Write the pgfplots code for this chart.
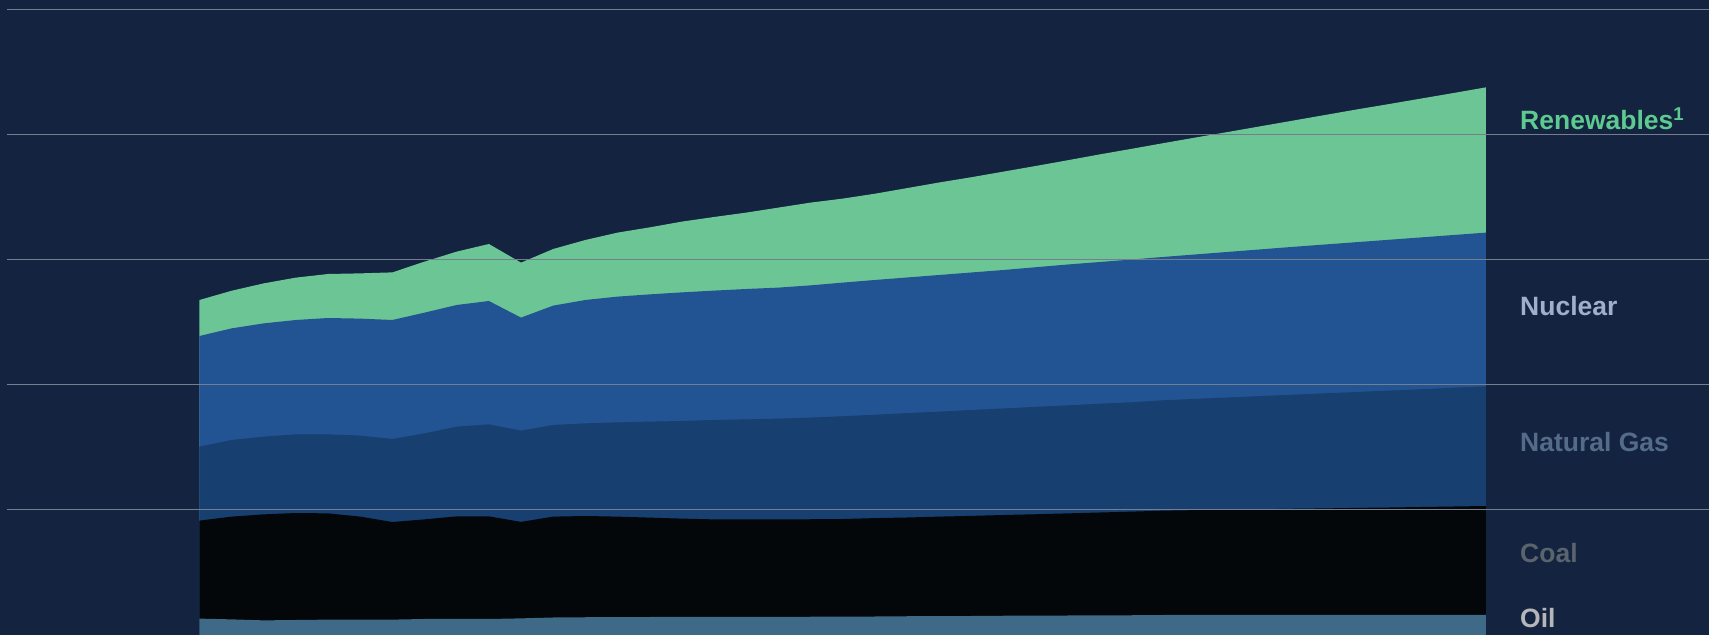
\documentclass[border=0pt]{standalone}
\usepackage{fontspec}
\setmainfont{Liberation Sans}
\usepackage{pgfplots}
\usepackage{pgfplotstable}
\pgfplotsset{compat=1.18}
\definecolor{bg}{HTML}{14233F}
\definecolor{gridc}{HTML}{737F8F}
\definecolor{renew}{HTML}{6CC595}
\definecolor{nucl}{HTML}{225393}
\definecolor{gas}{HTML}{173F70}
\definecolor{coal}{HTML}{030709}
\definecolor{oil}{HTML}{3E6A88}
\definecolor{renewt}{HTML}{5DCA8F}
\definecolor{nuclt}{HTML}{A0B0CB}
\definecolor{gast}{HTML}{546B8A}
\definecolor{coalt}{HTML}{5A646E}
\definecolor{oilt}{HTML}{B4B6BA}
% cumulative tops of the stacked layers
\pgfplotstableread{
year oil coal gas nuc tot
2010 0.131 0.915 1.507 2.392 2.680
2011 0.125 0.947 1.560 2.453 2.754
2012 0.117 0.965 1.587 2.493 2.813
2013 0.120 0.976 1.605 2.520 2.859
2014 0.123 0.973 1.605 2.536 2.888
2015 0.123 0.947 1.595 2.531 2.893
2016 0.123 0.904 1.568 2.520 2.901
2017 0.128 0.925 1.613 2.579 2.987
2018 0.128 0.949 1.667 2.640 3.067
2019 0.128 0.949 1.685 2.672 3.128
2020 0.133 0.905 1.635 2.539 2.979
2021 0.140 0.947 1.680 2.635 3.088
2022 0.142 0.952 1.693 2.680 3.160
2023 0.143 0.947 1.701 2.707 3.219
2024 0.144 0.939 1.707 2.725 3.261
2025 0.144 0.931 1.712 2.741 3.307
2026 0.144 0.925 1.720 2.755 3.344
2027 0.145 0.925 1.725 2.768 3.379
2028 0.145 0.925 1.731 2.779 3.419
2029 0.146 0.926 1.739 2.797 3.459
2030 0.147 0.928 1.750 2.819 3.491
2031 0.148 0.935 1.762 2.840 3.530
2032 0.150 0.940 1.775 2.860 3.575
2033 0.151 0.947 1.787 2.880 3.620
2034 0.152 0.953 1.800 2.900 3.662
2035 0.154 0.960 1.812 2.920 3.707
2036 0.155 0.966 1.825 2.942 3.752
2037 0.156 0.973 1.837 2.964 3.798
2038 0.157 0.980 1.850 2.984 3.845
2039 0.158 0.987 1.862 3.004 3.890
2040 0.160 0.995 1.878 3.025 3.936
2041 0.160 0.999 1.889 3.045 3.981
2042 0.160 1.003 1.900 3.065 4.025
2043 0.160 1.006 1.911 3.085 4.070
2044 0.160 1.010 1.922 3.105 4.115
2045 0.160 1.013 1.933 3.124 4.160
2046 0.160 1.017 1.944 3.143 4.205
2047 0.160 1.020 1.955 3.162 4.248
2048 0.160 1.024 1.966 3.181 4.292
2049 0.160 1.028 1.978 3.200 4.336
2050 0.160 1.032 1.990 3.219 4.381
}\energy
\begin{document}
\begin{tikzpicture}
\fill[bg] (0bp,0bp) rectangle (1709bp,635bp);
\path[use as bounding box] (0bp,0bp) rectangle (1709bp,635bp);
\begin{axis}[
  at={(6.5bp,0bp)}, anchor=south west,
  scale only axis, width=1702.5bp, height=635bp,
  xmin=2004, xmax=2056.94, ymin=0, ymax=5.08,
  axis on top,
  axis line style={draw=none},
  xtick=\empty, ytick={0,1,2,3,4,5}, yticklabels={},
  major tick length=0pt,
  ymajorgrids,
  grid style={color=gridc, line width=1bp},
]
\addplot[fill=renew, draw=none] table[x=year, y=tot] {\energy} \closedcycle;
\addplot[fill=nucl, draw=none] table[x=year, y=nuc] {\energy} \closedcycle;
\addplot[fill=gas, draw=none] table[x=year, y=gas] {\energy} \closedcycle;
\addplot[fill=coal, draw=none] table[x=year, y=coal] {\energy} \closedcycle;
\addplot[fill=oil, draw=none] table[x=year, y=oil] {\energy} \closedcycle;
\end{axis}
\begin{scope}[every node/.style={anchor=base west, inner sep=0pt, font=\fontsize{26.5bp}{30bp}\selectfont\bfseries}]
\node[text=renewt] at (1520bp,505.5bp) {Renewables\textsuperscript{1}};
\node[text=nuclt] at (1520bp,319.5bp) {Nuclear};
\node[text=gast] at (1520bp,183.5bp) {Natural Gas};
\node[text=coalt] at (1520bp,72bp) {Coal};
\node[text=oilt] at (1520bp,8bp) {Oil};
\end{scope}
\end{tikzpicture}
\end{document}
